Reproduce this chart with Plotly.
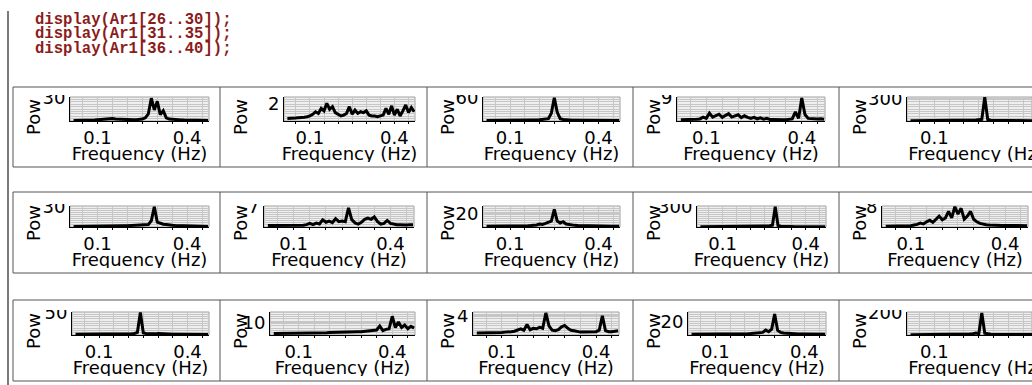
import plotly.graph_objects as go

# ---------------- data ----------------
freq = [0.02, 0.03, 0.04, 0.05, 0.06, 0.07, 0.08, 0.09, 0.10, 0.11,
        0.12, 0.13, 0.14, 0.15, 0.16, 0.17, 0.18, 0.19, 0.20, 0.21,
        0.22, 0.23, 0.24, 0.25, 0.26, 0.27, 0.28, 0.29, 0.30, 0.31,
        0.32, 0.33, 0.34, 0.35, 0.36, 0.37, 0.38, 0.39, 0.40, 0.41,
        0.42, 0.43, 0.44, 0.45, 0.46, 0.47]

ar26 = [0.5, 0.5, 0.6, 0.7, 0.8, 0.9, 1.0, 1.2, 1.5, 1.8, 2.2, 2.0, 2.8, 3.2, 2.5, 2.2, 2.6, 2.0, 1.8, 1.6,
        1.5, 1.7, 2.0, 2.4, 4.0, 9.0, 29.0, 14.0, 25.0, 8.0, 13.0, 4.0, 2.5, 2.0, 1.8, 1.5, 1.4, 1.2, 1.0, 1.0,
        0.9, 0.8, 0.8, 0.7, 0.7, 0.6]
ar27 = [0.3, 0.3, 0.3, 0.35, 0.4, 0.4, 0.45, 0.5, 0.6, 0.8, 1.1, 0.9, 1.5, 1.2, 2.1, 1.4, 1.7, 1.0, 0.8, 0.6,
        0.7, 0.9, 1.7, 0.8, 1.3, 0.9, 1.1, 1.0, 1.2, 0.7, 0.6, 0.6, 0.5, 0.6, 0.7, 1.5, 0.8, 1.8, 0.7, 1.4,
        0.6, 1.2, 1.9, 1.0, 1.6, 1.1]
ar28 = [1.0, 1.0, 1.0, 1.0, 1.1, 1.1, 1.2, 1.2, 1.3, 1.4, 1.5, 1.6, 1.8, 2.0, 2.2, 2.4, 2.6, 2.8, 3.0, 3.5,
        4.5, 6.0, 20.0, 59.0, 22.0, 6.0, 4.0, 3.0, 2.5, 2.2, 2.0, 1.8, 1.7, 1.6, 1.5, 1.5, 1.4, 1.4, 1.3, 1.3,
        1.2, 1.2, 1.2, 1.1, 1.1, 1.1]
ar29 = [0.5, 0.5, 0.5, 0.6, 0.6, 0.7, 0.8, 1.5, 1.0, 3.0, 1.5, 2.2, 2.6, 1.4, 2.0, 2.8, 1.5, 2.0, 2.4, 1.3,
        2.0, 1.4, 1.0, 1.4, 0.8, 1.2, 0.7, 1.0, 0.6, 0.6, 0.5, 0.6, 0.5, 0.5, 0.6, 0.8, 3.5, 1.0, 8.8, 2.5,
        1.0, 0.9, 0.8, 0.8, 0.9, 0.7]
ar30 = [4, 4, 4, 4, 4, 4, 5, 5, 5, 5, 5, 5, 5, 6, 6, 6, 6, 7, 7, 8,
        9, 10, 12, 18, 22, 315, 20, 10, 8, 7, 6, 6, 5, 5, 5, 5, 5, 4, 4, 4,
        4, 4, 4, 4, 4, 4]
ar31 = [0.8, 0.8, 0.9, 0.9, 1.0, 1.0, 1.0, 1.1, 1.1, 1.2, 1.2, 1.3, 1.4, 1.5, 1.5, 1.6, 1.7, 1.8, 1.9, 2.0,
        2.1, 2.3, 2.5, 2.8, 3.0, 3.5, 9.0, 29.5, 7.0, 5.0, 4.0, 3.5, 3.5, 2.5, 2.2, 2.0, 1.8, 1.6, 1.5, 1.4,
        1.3, 1.2, 1.1, 1.0, 1.0, 0.9]
ar32 = [0.5, 0.5, 0.5, 0.5, 0.5, 0.5, 0.5, 0.5, 0.5, 0.6, 0.6, 0.6, 0.8, 1.2, 0.8, 1.3, 1.0, 2.4, 1.6, 2.0,
        1.5, 2.8, 1.8, 2.0, 1.8, 6.5, 2.5, 1.4, 1.0, 1.6, 2.6, 3.0, 2.6, 3.4, 1.8, 1.0, 1.2, 2.2, 1.2, 0.9,
        0.8, 0.8, 0.7, 0.7, 0.8, 0.8]
ar33 = [1.0, 1.0, 1.0, 1.0, 1.0, 1.1, 1.1, 1.2, 1.2, 1.3, 1.4, 1.5, 1.6, 1.8, 2.0, 2.2, 2.5, 3.0, 4.5, 4.0,
        5.5, 7.0, 9.0, 27.0, 9.0, 6.0, 8.0, 4.5, 3.5, 3.0, 2.5, 2.2, 2.0, 1.8, 1.6, 1.5, 1.4, 1.3, 1.3, 1.2,
        1.2, 1.1, 1.1, 1.1, 1.0, 1.0]
ar34 = [4, 4, 4, 4, 4, 4, 4, 5, 5, 5, 5, 5, 5, 6, 6, 6, 7, 7, 8, 8,
        9, 10, 11, 12, 14, 18, 25, 296, 22, 12, 8, 7, 6, 6, 5, 5, 5, 5, 4, 4,
        4, 4, 4, 4, 4, 4]
ar35 = [0.3, 0.3, 0.3, 0.3, 0.3, 0.3, 0.4, 0.4, 0.5, 0.8, 1.0, 1.5, 1.2, 2.0, 2.6, 1.8, 3.0, 4.2, 2.8, 3.5,
        6.0, 3.5, 7.8, 5.0, 7.2, 3.0, 4.2, 6.0, 3.0, 2.0, 1.4, 1.0, 0.9, 0.8, 0.7, 0.7, 0.6, 0.6, 0.6, 0.6,
        0.5, 0.5, 0.5, 0.5, 0.5, 0.5]
ar36 = [1.5, 1.5, 1.5, 1.5, 1.6, 1.6, 1.6, 1.7, 1.7, 1.8, 1.8, 1.9, 2.0, 2.0, 2.1, 2.2, 2.3, 2.4, 2.5, 2.8,
        3.5, 6.0, 50.0, 5.0, 3.0, 2.5, 2.2, 2.5, 3.2, 2.6, 2.2, 2.0, 1.8, 1.7, 1.6, 1.5, 1.5, 1.4, 1.4, 1.3,
        1.3, 1.2, 1.2, 1.2, 1.1, 1.1]
ar37 = [1.2, 1.2, 1.3, 1.3, 1.3, 1.4, 1.4, 1.4, 1.5, 1.5, 1.5, 1.6, 1.6, 1.6, 1.7, 1.7, 1.8, 1.8, 1.9,
        1.9, 2.0, 2.0, 2.1, 2.2, 2.2, 2.3, 2.4, 2.5, 2.6,
        2.8, 3.0, 3.2, 3.5, 4.0, 7.2, 3.5, 4.5, 5.0, 15.0,
        6.0, 10.4, 6.0, 8.0, 5.0, 7.0, 5.5]
ar38 = [0.4, 0.4, 0.4, 0.4, 0.4, 0.5, 0.5, 0.5, 0.5, 0.6, 0.6, 0.7, 0.8, 1.0, 1.3, 1.0, 2.2, 1.1, 1.4, 1.3,
        1.6, 1.4, 4.6, 1.9, 1.0, 0.9, 1.1, 1.7, 2.0, 1.4, 1.0, 0.9, 0.7, 0.6, 0.6, 0.6, 0.6, 0.6, 0.7, 1.0,
        4.0, 0.9, 0.7, 0.7, 0.8, 0.9]
ar39 = [1.0, 1.0, 1.0, 1.0, 1.0, 1.0, 1.1, 1.1, 1.1, 1.2, 1.2, 1.3, 1.3, 1.4, 1.5, 1.5, 1.6, 1.7, 1.8, 2.0,
        2.2, 2.5, 3.0, 3.5, 4.0, 7.5, 5.0, 9.0, 32.0, 7.0, 4.0, 3.0, 2.5, 2.0, 1.8, 1.6, 1.5, 1.4, 1.3, 1.2,
        1.2, 1.1, 1.1, 1.0, 1.0, 1.0]
ar40 = [3, 3, 3, 3, 3, 3, 3, 3, 4, 4, 4, 4, 4, 4, 5, 5, 5, 6, 6, 7,
        8, 12, 18, 12, 196, 15, 8, 6, 5, 5, 4, 4, 4, 4, 4, 3, 3, 3, 3, 3,
        3, 3, 3, 3, 3, 3]

spectra = [ar26, ar27, ar28, ar29, ar30, ar31, ar32, ar33, ar34, ar35, ar36, ar37, ar38, ar39, ar40]
y_tick_values = [30, 2, 60, 9, 300, 30, 7, 20, 300, 8, 50, 10, 4, 20, 200]
x_tick_values = [0.1, 0.4]
x_tick_labels = ["0.1", "0.4"]
x_title = "Frequency (Hz)"
y_title = "Pow"
code_lines = ["display(Ar1[26..30]);", "display(Ar1[31..35]);", "display(Ar1[36..40]);"]

# ---------------- geometry (pixels) ----------------
W, H = 1032, 385
col_edges = [13, 220, 427, 633, 839, 1046]
row_tops = [87, 192, 300]
row_bottoms = [167, 273, 381]
plot_tops = [97, 206, 312]
plot_bottoms = [121, 227, 335]
plot_lefts = [70, 284, 483, 677, 907, 70, 264, 483, 697, 882, 72, 270, 473, 688, 907]
plot_rights = [209, 415, 620, 825, 1045, 209, 414, 620, 826, 1028, 209, 415, 619, 826, 1045]
y_maxes = [30.5, 2.85, 61, 9.2, 318, 30.5, 7.1, 32, 305, 8.1, 51, 18.4, 4.8, 35, 205]
x_lo, x_hi = 0.008, 0.473

FONT = "DejaVu Sans"
FS = 18
GRID = "#c6c6c6"
PLOT_BG = "#efefef"
BORDER = "#555555"
CODE_COLOR = "#8b1c1c"


def fx(px):
    return px / W


def fy(py):
    return 1 - py / H


fig = go.Figure()
layout = dict(
    width=W, height=H, margin=dict(l=0, r=0, t=0, b=0, pad=0, autoexpand=False),
    paper_bgcolor="white", plot_bgcolor="rgba(0,0,0,0)",
    showlegend=False, font=dict(family=FONT, color="black"),
)
shapes = []
annotations = []

for k in range(15):
    r, c = divmod(k, 5)
    d = k + 1
    a = k + 16
    xs_d = "" if d == 1 else str(d)
    xd, yd = "x" + xs_d, "y" + xs_d
    xa, ya = "x" + str(a), "y" + str(a)

    pl, pr = plot_lefts[k], plot_rights[k]
    pt, pb = plot_tops[r], plot_bottoms[r]
    dom_r = min(pr, W)
    xr_hi = x_lo + (dom_r - pl) / (pr - pl) * (x_hi - x_lo)

    layout["xaxis" + xs_d] = dict(
        domain=[fx(pl), fx(dom_r)], range=[x_lo, xr_hi], anchor=yd, automargin=False,
        tickmode="array", tickvals=x_tick_values, ticktext=x_tick_labels,
        tickfont=dict(family=FONT, size=FS, color="black"),
        ticks="",
        showgrid=True, gridcolor=GRID, gridwidth=1,
        minor=dict(tickmode="linear", tick0=0, dtick=0.05, showgrid=True,
                   gridcolor=GRID, gridwidth=1, ticks="outside", ticklen=2, tickcolor="black"),
        showline=True, linecolor="black", linewidth=1, zeroline=False, fixedrange=True,
    )
    layout["yaxis" + xs_d] = dict(
        domain=[fy(pb), fy(pt)], range=[0, y_maxes[k]], anchor=xd, automargin=False,
        tickmode="array", tickvals=[y_tick_values[k]], ticktext=[str(y_tick_values[k])],
        tickfont=dict(family=FONT, size=FS, color="black"),
        ticks="", showgrid=True, gridcolor=GRID,
        minor=dict(tickmode="linear", tick0=0, dtick=y_maxes[k] / 10, showgrid=True,
                   gridcolor=GRID, gridwidth=1),
        showline=True, linecolor="black", linewidth=1, zeroline=False, fixedrange=True,
    )

    fig.add_trace(go.Scatter(
        x=freq, y=spectra[k], mode="lines", xaxis=xd, yaxis=yd,
        line=dict(color="black", width=3), hoverinfo="skip", cliponaxis=True,
    ))

    shapes.append(dict(type="rect", xref=xd + " domain", yref=yd + " domain",
                       x0=0, x1=1, y0=0, y1=1, fillcolor=PLOT_BG,
                       line=dict(color="#a0a0a0", width=1), layer="below"))

    # clip box of the cell content
    cl = col_edges[c] + 3
    cr = min(col_edges[c + 1] - 9, W)
    ct = pt - 2
    cb = row_bottoms[r] - 5
    layout["xaxis" + str(a)] = dict(domain=[fx(cl), fx(cr)], range=[0, 1], anchor=ya,
                                     visible=False, fixedrange=True, automargin=False)
    layout["yaxis" + str(a)] = dict(domain=[fy(cb), fy(ct)], range=[0, 1], anchor=xa,
                                     visible=False, fixedrange=True, automargin=False)
    title_cx = ((pl + pr) / 2 - cl) / (cr - cl)
    title_cy = (cb - (pb + 34)) / (cb - ct)
    fig.add_trace(go.Scatter(
        x=[title_cx], y=[title_cy], mode="text", text=[x_title], xaxis=xa, yaxis=ya,
        textfont=dict(family=FONT, size=FS, color="black"), textposition="middle center",
        hoverinfo="skip", cliponaxis=True,
    ))

    shapes.append(dict(type="rect", xref="paper", yref="paper",
                       x0=fx(col_edges[c] + 1), x1=fx(col_edges[c + 1] - 1),
                       y0=fy(ct), y1=fy(row_tops[r] + 1),
                       fillcolor="white", line=dict(width=0), layer="above"))

    annotations.append(dict(text=y_title, x=fx(col_edges[c] + 20), y=fy(pb - 4),
                            xref="paper", yref="paper", showarrow=False, textangle=-90,
                            xanchor="center", yanchor="middle",
                            font=dict(family=FONT, size=FS, color="black")))

for r in range(3):
    shapes.append(dict(type="rect", xref="paper", yref="paper",
                       x0=fx(col_edges[0]), x1=fx(col_edges[-1]),
                       y0=fy(row_bottoms[r]), y1=fy(row_tops[r]),
                       line=dict(color=BORDER, width=1), layer="above"))
    for c in range(1, 5):
        shapes.append(dict(type="line", xref="paper", yref="paper",
                           x0=fx(col_edges[c]), x1=fx(col_edges[c]),
                           y0=fy(row_bottoms[r]), y1=fy(row_tops[r]),
                           line=dict(color=BORDER, width=1), layer="above"))

shapes.append(dict(type="line", xref="paper", yref="paper", x0=fx(8), x1=fx(8),
                   y0=fy(385), y1=fy(11), line=dict(color="#7a7a7a", width=2), layer="above"))

for i, line in enumerate(code_lines):
    annotations.append(dict(text=line, x=fx(33), y=fy(20 + 14.5 * i), xref="paper", yref="paper",
                            showarrow=False, xanchor="left", yanchor="middle",
                            font=dict(family="Liberation Mono", size=15.6, color=CODE_COLOR,
                                      weight="bold")))

layout["shapes"] = shapes
layout["annotations"] = annotations
fig.update_layout(**layout)

pin = ("document.body.style.margin='0';"
       "var g=document.getElementById('{plot_id}');"
       "g.style.position='fixed';g.style.left='0px';g.style.top='0px';")
fig.write_html("out.html", post_script=pin, config={"displayModeBar": False, "staticPlot": True})
